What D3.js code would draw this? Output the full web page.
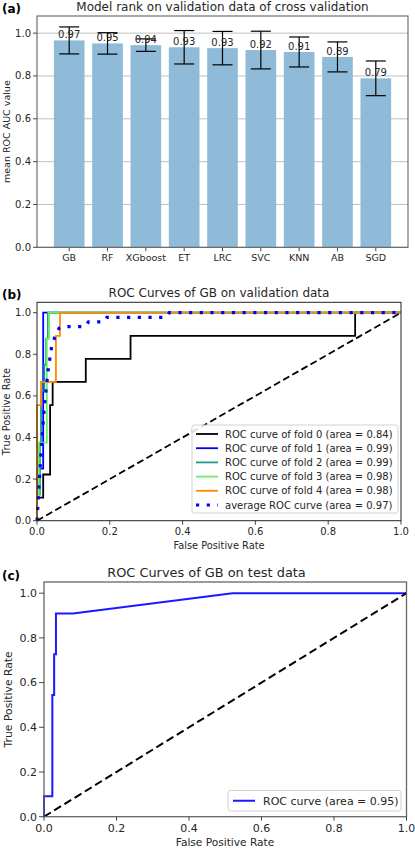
<!DOCTYPE html>
<html><head><meta charset="utf-8">
<script src="https://cdn.jsdelivr.net/npm/d3@7"></script>
<style>
html,body{margin:0;padding:0;background:#fff;}
svg{display:block;font-family:"DejaVu Sans",sans-serif;}
</style></head>
<body>
<svg id="chart" width="415" height="848"></svg>
<script>
// ---------- DATA ----------
const models = ["GB","RF","XGboost","ET","LRC","SVC","KNN","AB","SGD"];
const meanAUC = [0.966,0.952,0.944,0.934,0.930,0.921,0.912,0.889,0.789];
const aucStd = [0.063,0.050,0.029,0.078,0.078,0.088,0.070,0.070,0.081];
const barTicks = [0,0.2,0.4,0.6,0.8,1.0];

const foldNames = ["ROC curve of fold 0","ROC curve of fold 1","ROC curve of fold 2","ROC curve of fold 3","ROC curve of fold 4"];
const foldAUC = [0.84,0.99,0.99,0.98,0.98];
const fold0 = [[0,0],[0,0.111],[0.017,0.111],[0.017,0.222],[0.036,0.222],[0.036,0.556],[0.043,0.556],[0.043,0.667],[0.134,0.667],[0.134,0.778],[0.257,0.778],[0.257,0.889],[0.874,0.889],[0.874,1],[1,1]];
const fold1 = [[0,0],[0,0.25],[0.017,0.25],[0.017,1],[1,1]];
const fold2 = [[0,0],[0,0.125],[0.008,0.125],[0.008,0.375],[0.011,0.375],[0.011,0.625],[0.02,0.625],[0.02,0.75],[0.025,0.75],[0.025,0.875],[0.03,0.875],[0.03,1],[1,1]];
const fold3 = [[0,0],[0,0.125],[0.005,0.125],[0.005,0.375],[0.027,0.375],[0.027,0.875],[0.033,0.875],[0.033,1],[1,1]];
const fold4 = [[0,0],[0,0.556],[0.011,0.556],[0.011,0.667],[0.052,0.667],[0.052,0.889],[0.063,0.889],[0.063,1],[1,1]];
const avgName = "average ROC curve";
const avgAUC = 0.97;
const avgCurve = [[0,0],[0.0101,0.30],[0.0202,0.55],[0.0303,0.72],[0.0404,0.84],[0.0505,0.89],[0.0606,0.925],[0.0707,0.933],[0.1313,0.933],[0.1414,0.956],[0.1818,0.956],[0.1919,0.978],[0.3535,0.978],[0.3636,1],[1,1]];

const testName = "ROC curve";
const testAUC = 0.95;
const testCurve = [[0,0],[0,0.091],[0.023,0.091],[0.023,0.545],[0.028,0.545],[0.028,0.727],[0.033,0.727],[0.033,0.909],[0.08,0.909],[0.52,1],[1,1]];
const chance = [[0,0],[1,1]];
const rocTicks = [0,0.2,0.4,0.6,0.8,1.0];

// ---------- STYLE ----------
const foldColors = ["#000000","#0000ff","#1a9f85","#66f066","#ff8c00"];
const barColor = "#8fbbd9";
const txt = "#262626";
const fmt = d3.format(".1f");
const fmt2 = d3.format(".2f");
const svg = d3.select("#chart");

function frame(g, x0, x1, y0, y1, col, w){
  g.append("rect").attr("x",x0).attr("y",y0).attr("width",x1-x0).attr("height",y1-y0)
   .attr("fill","none").attr("stroke",col).attr("stroke-width",w);
}
function yAxis(g, y, x0, ticks, fs, tl){
  ticks.forEach(t=>{
    g.append("line").attr("x1",x0-tl).attr("x2",x0).attr("y1",y(t)).attr("y2",y(t)).attr("stroke","#333").attr("stroke-width",0.9);
    g.append("text").attr("x",x0-tl-2).attr("y",y(t)).attr("dy","0.35em").attr("text-anchor","end")
     .attr("font-size",fs).attr("fill",txt).text(fmt(t));
  });
}
function xAxis(g, x, y0, ticks, fs, tl){
  ticks.forEach(t=>{
    g.append("line").attr("x1",x(t)).attr("x2",x(t)).attr("y1",y0).attr("y2",y0+tl).attr("stroke","#333").attr("stroke-width",0.9);
    g.append("text").attr("x",x(t)).attr("y",y0+tl+2).attr("dy","0.8em").attr("text-anchor","middle")
     .attr("font-size",fs).attr("fill",txt).text(fmt(t));
  });
}

// ---------- PANEL A ----------
{
  const L=37,R=408,T=16,B=247.3;
  const g = svg.append("g");
  const x = d3.scaleBand().domain(models).range([L,R]).paddingInner(0.2).paddingOuter(0.44);
  const y = d3.scaleLinear().domain([0,1.08]).range([B,T]);
  barTicks.forEach(t=>{
    g.append("line").attr("x1",L).attr("x2",R).attr("y1",y(t)).attr("y2",y(t)).attr("stroke","#b0b0b0").attr("stroke-width",0.8);
  });
  g.selectAll(".bar").data(models).enter().append("rect")
   .attr("x",d=>x(d)).attr("width",x.bandwidth())
   .attr("y",(d,i)=>y(meanAUC[i])).attr("height",(d,i)=>B-y(meanAUC[i])).attr("fill",barColor);
  models.forEach((m,i)=>{
    const cx = x(m)+x.bandwidth()/2;
    const lo = y(meanAUC[i]-aucStd[i]), hi = y(meanAUC[i]+aucStd[i]);
    g.append("line").attr("x1",cx).attr("x2",cx).attr("y1",lo).attr("y2",hi).attr("stroke","#000").attr("stroke-width",1.2);
    [lo,hi].forEach(v=>g.append("line").attr("x1",cx-10).attr("x2",cx+10).attr("y1",v).attr("y2",v).attr("stroke","#000").attr("stroke-width",1.2));
    g.append("text").attr("x",cx).attr("y",y(meanAUC[i])-2).attr("text-anchor","middle")
     .attr("font-size",10).attr("fill",txt).text(fmt2(meanAUC[i]));
    g.append("line").attr("x1",cx).attr("x2",cx).attr("y1",B).attr("y2",B+4).attr("stroke","#333").attr("stroke-width",0.9);
    g.append("text").attr("x",cx).attr("y",B+6).attr("dy","0.8em").attr("text-anchor","middle")
     .attr("font-size",9.5).attr("fill",txt).text(m);
  });
  frame(g,L,R,T,B,"#555",1);
  yAxis(g,y,L,barTicks,10,4);
  g.append("text").attr("transform",`translate(9.5,${(T+B)/2}) rotate(-90)`).attr("text-anchor","middle")
   .attr("font-size",9.5).attr("fill",txt).text("mean ROC AUC value");
  g.append("text").attr("x",(L+R)/2).attr("y",11).attr("text-anchor","middle").attr("font-size",12).attr("fill",txt)
   .text("Model rank on validation data of cross validation");
  g.append("text").attr("x",2).attr("y",13).attr("font-size",12).attr("font-weight","bold").attr("fill","#000").text("(a)");
}

// ---------- PANEL B ----------
{
  const L=37,R=401,T=302.3,B=520.7;
  const g = svg.append("g");
  const x = d3.scaleLinear().domain([0,1]).range([L,R]);
  const y = d3.scaleLinear().domain([0,1.05]).range([B,T]);
  const line = d3.line().x(d=>x(d[0])).y(d=>y(d[1]));
  g.append("defs").append("clipPath").attr("id","clipB").append("rect").attr("x",L-2).attr("y",T).attr("width",R-L+4).attr("height",B-T+2);
  const cg = g.append("g").attr("clip-path","url(#clipB)");
  const folds = [fold0,fold1,fold2,fold3,fold4];
  folds.forEach((f,i)=>{
    cg.append("path").attr("d",line(f)).attr("fill","none").attr("stroke",foldColors[i]).attr("stroke-width",1.8);
  });
  cg.append("path").attr("d",line(avgCurve)).attr("fill","none").attr("stroke","#0000ff").attr("stroke-width",3.2)
   .attr("stroke-dasharray","3.2,7.5");
  cg.append("path").attr("d",line(chance)).attr("fill","none").attr("stroke","#000").attr("stroke-width",1.8)
   .attr("stroke-dasharray","7,3.5");
  frame(g,L,R,T,B,"#222",1);
  yAxis(g,y,L,rocTicks,10,4);
  xAxis(g,x,B,rocTicks,10,4);
  g.append("text").attr("x",(L+R)/2).attr("y",549).attr("text-anchor","middle").attr("font-size",9.8).attr("fill",txt).text("False Positive Rate");
  g.append("text").attr("transform",`translate(9.5,${(T+B)/2}) rotate(-90)`).attr("text-anchor","middle")
   .attr("font-size",9.8).attr("fill",txt).text("True Positive Rate");
  g.append("text").attr("x",(L+R)/2).attr("y",297).attr("text-anchor","middle").attr("font-size",12).attr("fill",txt)
   .text("ROC Curves of GB on validation data");
  g.append("text").attr("x",2).attr("y",299).attr("font-size",12).attr("font-weight","bold").attr("fill","#000").text("(b)");
  // legend
  const lx=192, ly=425, lw=206, lh=88;
  g.append("rect").attr("x",lx).attr("y",ly).attr("width",lw).attr("height",lh).attr("rx",2.5)
   .attr("fill","#fff").attr("fill-opacity",0.85).attr("stroke","#cccccc").attr("stroke-width",0.9);
  const entries = foldNames.map((n,i)=>({label:`${n} (area = ${fmt2(foldAUC[i])})`,color:foldColors[i],dash:null,w:1.8}));
  entries.push({label:`${avgName} (area = ${fmt2(avgAUC)})`,color:"#0000ff",dash:"3.2,7.5",w:3.2});
  entries.forEach((e,i)=>{
    const yy = 434 + i*14.2;
    const ln = g.append("line").attr("x1",196).attr("x2",218).attr("y1",yy).attr("y2",yy).attr("stroke",e.color).attr("stroke-width",e.w);
    if(e.dash) ln.attr("stroke-dasharray",e.dash);
    g.append("text").attr("x",225).attr("y",yy).attr("dy","0.35em").attr("font-size",10).attr("fill",txt).text(e.label);
  });
}

// ---------- PANEL C ----------
{
  const L=44,R=406.5,T=582,B=816.7;
  const g = svg.append("g");
  const x = d3.scaleLinear().domain([0,1]).range([L,R]);
  const y = d3.scaleLinear().domain([0,1.05]).range([B,T]);
  const line = d3.line().x(d=>x(d[0])).y(d=>y(d[1]));
  g.append("path").attr("d",line(testCurve)).attr("fill","none").attr("stroke","#1a1aff").attr("stroke-width",2);
  g.append("path").attr("d",line(chance)).attr("fill","none").attr("stroke","#000").attr("stroke-width",2)
   .attr("stroke-dasharray","8,4");
  frame(g,L,R,T,B,"#666",1.3);
  yAxis(g,y,L,rocTicks,11,5);
  xAxis(g,x,B,rocTicks,11,4);
  g.append("text").attr("x",225).attr("y",845.5).attr("text-anchor","middle").attr("font-size",10.6).attr("fill",txt).text("False Positive Rate");
  g.append("text").attr("transform",`translate(12,${(T+B)/2}) rotate(-90)`).attr("text-anchor","middle")
   .attr("font-size",10.8).attr("fill",txt).text("True Positive Rate");
  g.append("text").attr("x",206.5).attr("y",577).attr("text-anchor","middle").attr("font-size",12.9).attr("fill",txt)
   .text("ROC Curves of GB on test data");
  g.append("text").attr("x",2).attr("y",580).attr("font-size",12).attr("font-weight","bold").attr("fill","#000").text("(c)");
  const lx=228, ly=790.5, lw=173, lh=20.5;
  g.append("rect").attr("x",lx).attr("y",ly).attr("width",lw).attr("height",lh).attr("rx",2.5)
   .attr("fill","#fff").attr("fill-opacity",0.85).attr("stroke","#cccccc").attr("stroke-width",0.9);
  g.append("line").attr("x1",233).attr("x2",255).attr("y1",ly+lh/2).attr("y2",ly+lh/2).attr("stroke","#1a1aff").attr("stroke-width",2);
  g.append("text").attr("x",263).attr("y",ly+lh/2).attr("dy","0.35em").attr("font-size",11).attr("fill",txt)
   .text(`${testName} (area = ${fmt2(testAUC)})`);
}
</script>
</body></html>
